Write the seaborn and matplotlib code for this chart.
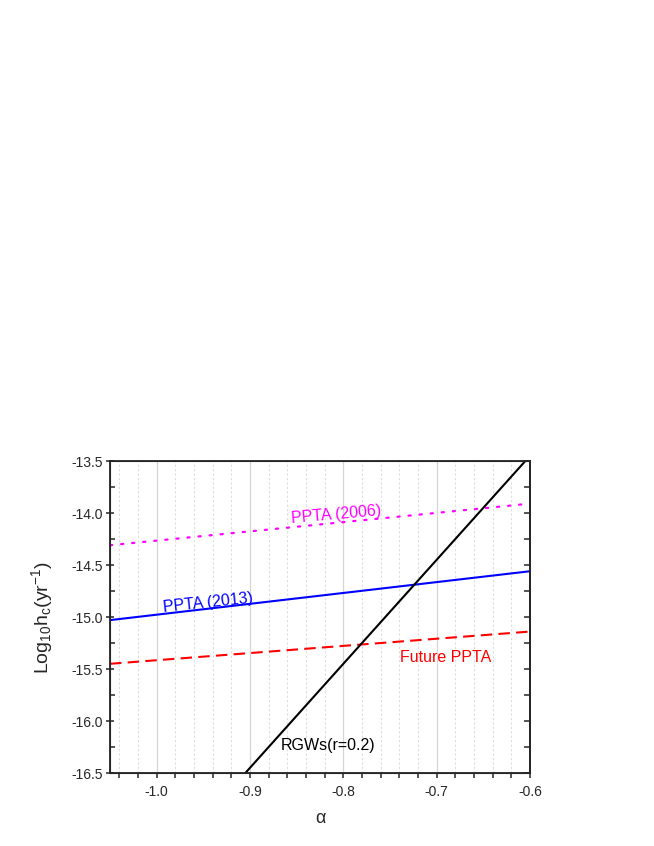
import numpy as np
import pandas as pd
import seaborn as sns
import matplotlib.pyplot as plt
from matplotlib.ticker import MultipleLocator

# line end points
alpha_span = [-1.05, -0.6]
ppta2006 = [-14.31, -13.91]
ppta2013 = [-15.03, -14.56]
future_ppta = [-15.45, -15.14]
rgw_alpha = [-0.905, -0.605]
rgw_h = [-16.5, -13.5]

sns.set_style("ticks")
plt.rcParams['font.family'] = ['Liberation Sans', 'DejaVu Sans']
plt.rcParams['mathtext.default'] = 'regular'

fig = plt.figure(figsize=(6.54, 8.46), dpi=100)
ax = fig.add_axes([110/654, 1 - 773/846, 420/654, 312/846])

df_lines = pd.DataFrame({
    "alpha": alpha_span * 3,
    "h": ppta2006 + ppta2013 + future_ppta,
    "set": ["2006"] * 2 + ["2013"] * 2 + ["future"] * 2,
})

sns.lineplot(data=df_lines[df_lines["set"] == "2006"], x="alpha", y="h", ax=ax,
             color="#ff00ff", lw=1.6, linestyle=(0, (1, 4)), dash_capstyle="round")
sns.lineplot(data=df_lines[df_lines["set"] == "2013"], x="alpha", y="h", ax=ax,
             color="#0000ff", lw=1.5)
sns.lineplot(data=df_lines[df_lines["set"] == "future"], x="alpha", y="h", ax=ax,
             color="#ff0000", lw=1.5, linestyle=(0, (5.5, 3)))
sns.lineplot(x=rgw_alpha, y=rgw_h, ax=ax, color="black", lw=1.5)

ax.set_xlim(-1.05, -0.6)
ax.set_ylim(-16.5, -13.5)
ax.xaxis.set_major_locator(MultipleLocator(0.1))
ax.xaxis.set_minor_locator(MultipleLocator(0.02))
ax.yaxis.set_major_locator(MultipleLocator(0.5))
ax.yaxis.set_minor_locator(MultipleLocator(0.25))
ax.xaxis.set_major_formatter(plt.FuncFormatter(lambda v, p: "%.1f" % v))
ax.yaxis.set_major_formatter(plt.FuncFormatter(lambda v, p: "%.1f" % v))

ax.grid(axis="x", which="major", color="#d6d6d6", lw=0.9, ls="-")
ax.grid(axis="x", which="minor", color="#dedede", lw=0.8, ls=(0, (2, 2)))
ax.grid(axis="y", visible=False, which="both")

ax.tick_params(axis="x", which="both", direction="out", length=3.5, width=1.1,
               labelsize=10, pad=5, top=False)
ax.tick_params(axis="y", which="major", direction="inout", length=6, width=1.1,
               labelsize=10, pad=2)
ax.tick_params(axis="y", which="minor", direction="in", length=3.5, width=1.1)
for s in ax.spines.values():
    s.set_linewidth(1.3)
    s.set_color("#222222")

# right side ticks pointing inward
ax2 = ax.twinx()
ax2.set_ylim(ax.get_ylim())
ax2.yaxis.set_major_locator(MultipleLocator(0.25))
ax2.tick_params(axis="y", direction="in", length=4, width=1.1, labelright=False)
ax2.spines["right"].set_linewidth(1.3)

ax.set_xlabel("α", fontsize=13, labelpad=8)
ax.set_ylabel(r"Log$_{10}$h$_{c}$(yr$^{-1}$)", fontsize=14, labelpad=12)

ax.text(-0.8075, -14.02, "PPTA (2006)", color="#ff00ff", fontsize=11.5,
        ha="center", va="center", rotation=5)
ax.text(-0.945, -14.86, "PPTA (2013)", color="#0000ff", fontsize=11.5,
        ha="center", va="center", rotation=6)
ax.text(-0.69, -15.385, "Future PPTA", color="#ff0000", fontsize=11.5,
        ha="center", va="center")
ax.text(-0.816, -16.24, "RGWs(r=0.2)", color="black", fontsize=11.5,
        ha="center", va="center")

plt.savefig("out.png", dpi=100)
